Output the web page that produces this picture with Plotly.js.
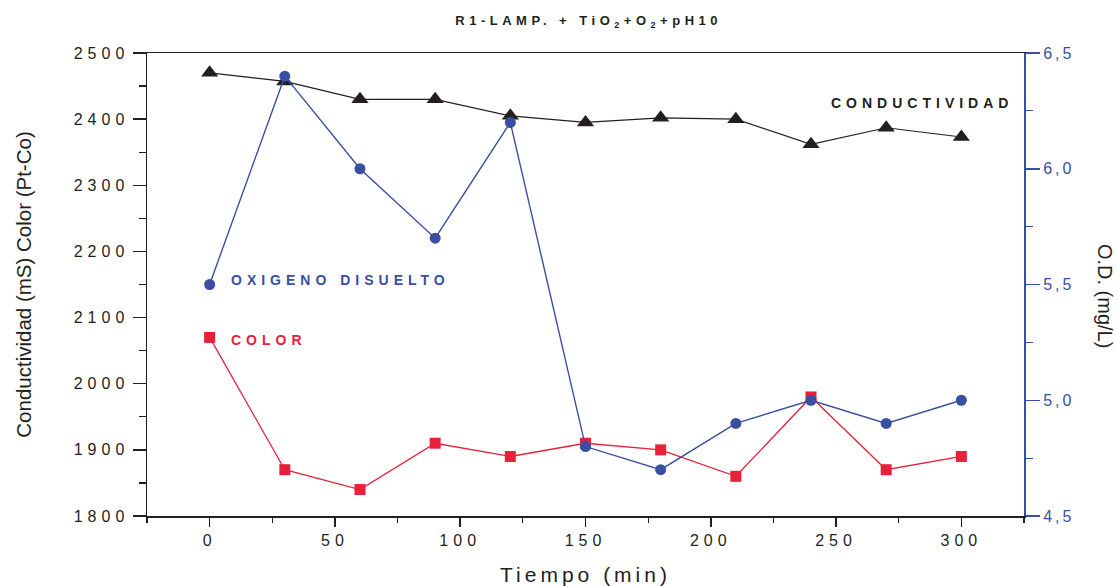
<!DOCTYPE html>
<html>
<head>
<meta charset="utf-8">
<script src="https://cdn.plot.ly/plotly-3.0.1.min.js"></script>
<style>
  body { margin: 0; background: #fff; }
  #chart { width: 1117px; height: 586px; }
  text.gtitle { letter-spacing: 4.5px; }
  g.xtick text { letter-spacing: 5px; }
  g.ytick text { letter-spacing: 5px; }
  g.y2tick text { letter-spacing: 3px; }
  text.xtitle { letter-spacing: 4px; }
  text.annotation-text { letter-spacing: 5px; }
  g.annotation[data-index="0"] text.annotation-text { letter-spacing: normal; }
</style>
</head>
<body>
<div id="chart"></div>
<script>
// Data
const tiempo = [0, 30, 60, 90, 120, 150, 180, 210, 240, 270, 300];
const conductividad = [2470, 2457, 2430, 2430, 2405, 2395, 2402, 2400, 2362, 2387, 2373];
const color = [2070, 1870, 1840, 1910, 1890, 1910, 1900, 1860, 1980, 1870, 1890];
const oxigeno = [5.5, 6.4, 6.0, 5.7, 6.2, 4.8, 4.7, 4.9, 5.0, 4.9, 5.0];

const BLACK = '#231f20';
const BLUE = '#3a4fa3';
const RED = '#e8203a';
const FONT = 'Liberation Sans, Arial, sans-serif';

const traces = [
  {
    x: tiempo, y: conductividad, type: 'scatter', mode: 'lines+markers',
    name: 'CONDUCTIVIDAD', xaxis: 'x', yaxis: 'y',
    line: { color: BLACK, width: 1.2 },
    marker: { symbol: 'triangle-up', size: 15, color: BLACK }
  },
  {
    x: tiempo, y: color, type: 'scatter', mode: 'lines+markers',
    name: 'COLOR', xaxis: 'x', yaxis: 'y',
    line: { color: RED, width: 1.3 },
    marker: { symbol: 'square', size: 11, color: RED }
  },
  {
    x: tiempo, y: oxigeno, type: 'scatter', mode: 'lines+markers',
    name: 'OXIGENO DISUELTO', xaxis: 'x', yaxis: 'y2',
    line: { color: BLUE, width: 1.4 },
    marker: { symbol: 'circle', size: 11, color: BLUE }
  }
];

const layout = {
  width: 1117, height: 586,
  margin: { l: 147, r: 93, t: 53, b: 70 },
  paper_bgcolor: '#fff', plot_bgcolor: '#fff',
  showlegend: false,
  separators: ', ',
  font: { family: FONT, color: BLACK },
  title: {
    text: 'R1-LAMP. + TiO<sub>2</sub>+O<sub>2</sub>+pH10',
    font: { family: FONT, size: 13, color: BLACK, weight: 'bold' },
    x: 0.527, xanchor: 'center', y: 0.965, yanchor: 'middle'
  },
  xaxis: {
    range: [-25, 325], dtick: 50, tick0: 0,
    showgrid: false, zeroline: false,
    showline: true, linecolor: BLACK, linewidth: 1.5, mirror: true,
    ticks: 'outside', ticklen: 9, tickwidth: 1.5, tickcolor: BLACK,
    minor: { dtick: 25, tick0: 0, ticks: 'outside', ticklen: 5, tickwidth: 1.2, tickcolor: BLACK, showgrid: false },
    tickfont: { family: FONT, size: 16, color: BLACK },
    title: { text: 'Tiempo (min)', font: { family: FONT, size: 21, color: BLACK }, standoff: 20 }
  },
  yaxis: {
    range: [1800, 2500], dtick: 100, tick0: 1800,
    showgrid: false, zeroline: false,
    showline: true, linecolor: BLACK, linewidth: 1.5,
    ticks: 'outside', ticklen: 13, tickwidth: 1.5, tickcolor: BLACK,
    minor: { dtick: 50, tick0: 1800, ticks: 'outside', ticklen: 7, tickwidth: 1.2, tickcolor: BLACK, showgrid: false },
    tickfont: { family: FONT, size: 16, color: BLACK },
    title: { text: 'Conductividad (mS) Color (Pt-Co)', font: { family: FONT, size: 20.5, color: BLACK }, standoff: 36 }
  },
  yaxis2: {
    overlaying: 'y', side: 'right', anchor: 'x',
    range: [4.5, 6.5], dtick: 0.5, tick0: 4.5, tickformat: '.1f',
    showgrid: false, zeroline: false,
    showline: true, linecolor: BLUE, linewidth: 2,
    ticks: 'outside', ticklen: 14, tickwidth: 1.5, tickcolor: BLUE,
    minor: { dtick: 0.25, tick0: 4.5, ticks: 'outside', ticklen: 7, tickwidth: 1.2, tickcolor: BLUE, showgrid: false },
    tickfont: { family: FONT, size: 16, color: BLUE }
  },
  annotations: [
    {
      text: 'O.D. (mg/L)', xref: 'paper', yref: 'paper', x: 1.092, y: 0.475,
      textangle: 90, showarrow: false, xanchor: 'center', yanchor: 'middle',
      font: { family: FONT, size: 20, color: BLACK }
    },
    {
      text: 'CONDUCTIVIDAD', xref: 'x', yref: 'y', x: 247, y: 2424,
      xanchor: 'left', yanchor: 'middle', showarrow: false,
      font: { family: FONT, size: 14, color: BLACK, weight: 'bold' }
    },
    {
      text: 'OXIGENO DISUELTO', xref: 'x', yref: 'y', x: 7.8, y: 2157,
      xanchor: 'left', yanchor: 'middle', showarrow: false,
      font: { family: FONT, size: 14, color: BLUE, weight: 'bold' }
    },
    {
      text: 'COLOR', xref: 'x', yref: 'y', x: 7.8, y: 2066,
      xanchor: 'left', yanchor: 'middle', showarrow: false,
      font: { family: FONT, size: 14, color: RED, weight: 'bold' }
    }
  ]
};

Plotly.newPlot('chart', traces, layout, { displayModeBar: false, staticPlot: true });
</script>
</body>
</html>
